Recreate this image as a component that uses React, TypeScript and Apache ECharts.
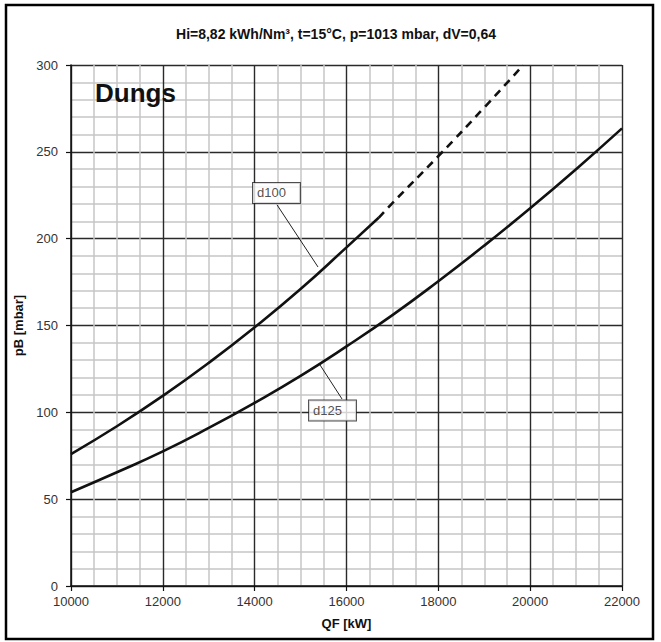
import React, { useEffect, useRef } from "react";
import * as echarts from "echarts";

// Gas flow QF [kW] vs. pressure drop pB [mbar] for two nominal sizes
const d100Solid: [number, number][] = [
  [10000, 76], [11000, 92], [12000, 109.5], [13000, 128.5], [14000, 149],
  [15000, 171], [16000, 195], [16700, 212],
];
const d100Dashed: [number, number][] = [
  [16700, 212], [17000, 220.5], [18000, 247.5], [19000, 275.5], [19850, 300],
];
const d125: [number, number][] = [
  [10000, 54], [11000, 65.5], [12000, 77.5], [13000, 91], [14000, 105.5],
  [15000, 121], [16000, 138], [17000, 156], [18000, 175.5], [19000, 196],
  [20000, 217.5], [21000, 240], [22000, 263.5],
];

// Callout boxes (centre in data units) and their leader lines
const calloutNames = ["d100", "d125"];
const calloutCentres: [number, number][] = [[14475, 226.3], [15695, 101]];
const leaderD100: [number, number][] = [[14486, 219.5], [15379, 183.7]];
const leaderD125: [number, number][] = [[15423, 127.3], [15902, 107.7]];

const xRange = { min: 10000, max: 22000, interval: 2000 };
const yRange = { min: 0, max: 300, interval: 50 };

const titleText = "Hi=8,82 kWh/Nm³, t=15°C, p=1013 mbar, dV=0,64";
const brandText = "Dungs";
const xName = "QF [kW]";
const yName = "pB [mbar]";

const FONT = "'Liberation Sans', Arial, sans-serif";

export default function App() {
  const ref = useRef<HTMLDivElement>(null);

  useEffect(() => {
    if (!ref.current) return;
    const chart = echarts.init(ref.current, null, { renderer: "svg" });

    const curveStyle = { color: "#111", width: 2.6 };
    const curveCommon = {
      type: "line",
      smooth: 0.5,
      showSymbol: false,
      silent: true,
      z: 5,
    };

    chart.setOption({
      animation: false,
      backgroundColor: "#fff",
      textStyle: { fontFamily: FONT },
      grid: { left: 71, right: 39, top: 65, bottom: 56 },
      xAxis: {
        type: "value",
        ...xRange,
        name: xName,
        nameLocation: "middle",
        nameGap: 31,
        nameTextStyle: { fontFamily: FONT, fontSize: 13, fontWeight: "bold", color: "#111" },
        axisLine: { show: true, lineStyle: { color: "#111", width: 1.5 } },
        axisTick: { show: true, length: 5, lineStyle: { color: "#111", width: 1.2 } },
        axisLabel: {
          margin: 9,
          fontFamily: FONT,
          fontSize: 13,
          color: "#333",
          formatter: (v: number) => String(v),
        },
        splitLine: { show: true, lineStyle: { color: "#2a2a2a", width: 1.4 } },
        minorTick: { show: false, splitNumber: 4 },
        minorSplitLine: { show: true, lineStyle: { color: "#c6c6c6", width: 1.5 } },
      },
      yAxis: {
        type: "value",
        ...yRange,
        name: yName,
        nameLocation: "middle",
        nameRotate: 90,
        nameGap: 42,
        nameTextStyle: { fontFamily: FONT, fontSize: 13, fontWeight: "bold", color: "#111" },
        axisLine: { show: true, lineStyle: { color: "#111", width: 1.5 } },
        axisTick: { show: true, length: 5, lineStyle: { color: "#111", width: 1.2 } },
        axisLabel: { margin: 13, fontFamily: FONT, fontSize: 13, color: "#333" },
        splitLine: { show: true, lineStyle: { color: "#2a2a2a", width: 1.4 } },
        minorTick: { show: false, splitNumber: 5 },
        minorSplitLine: { show: true, lineStyle: { color: "#c6c6c6", width: 1.5 } },
      },
      graphic: [
        {
          type: "rect",
          silent: true,
          shape: { x: 6, y: 5, width: 647, height: 634 },
          style: { fill: "none", stroke: "#000", lineWidth: 2.5 },
          z: 100,
        },
        {
          type: "text",
          x: 336,
          y: 34,
          style: {
            text: titleText,
            fontFamily: FONT,
            fontSize: 14,
            fontWeight: "bold",
            fill: "#111",
            textAlign: "center",
            textVerticalAlign: "middle",
          },
        },
        {
          type: "text",
          x: 95,
          y: 93,
          z: 50,
          style: {
            text: brandText,
            fontFamily: FONT,
            fontSize: 26,
            fontWeight: "bold",
            fill: "#111",
            textAlign: "left",
            textVerticalAlign: "middle",
          },
        },
      ],
      series: [
        { ...curveCommon, name: "d100", data: d100Solid, lineStyle: curveStyle },
        {
          ...curveCommon,
          name: "d100 ext",
          data: d100Dashed,
          lineStyle: { ...curveStyle, type: [8, 6] },
        },
        { ...curveCommon, name: "d125", data: d125, lineStyle: curveStyle },
        {
          type: "line",
          name: "leader d100",
          data: leaderD100,
          showSymbol: false,
          lineStyle: { color: "#222", width: 1 },
          silent: true,
          z: 6,
        },
        {
          type: "line",
          name: "leader d125",
          data: leaderD125,
          showSymbol: false,
          lineStyle: { color: "#222", width: 1 },
          silent: true,
          z: 6,
        },
        {
          type: "scatter",
          name: "callouts",
          symbolSize: 0,
          silent: true,
          z: 10,
          data: calloutCentres.map((c, i) => ({ value: c, name: calloutNames[i] })),
          label: {
            show: true,
            position: "inside",
            formatter: (p: any) => p.name,
            fontFamily: FONT,
            fontSize: 13,
            color: "#222",
            backgroundColor: "#fff",
            borderColor: "#222",
            borderWidth: 1,
            padding: [4, 14, 3, 4],
          },
        },
      ],
    });

    return () => chart.dispose();
  }, []);

  return (
    <div
      ref={ref}
      style={{ position: "fixed", left: 0, top: 0, width: 661, height: 642, background: "#fff" }}
    />
  );
}
